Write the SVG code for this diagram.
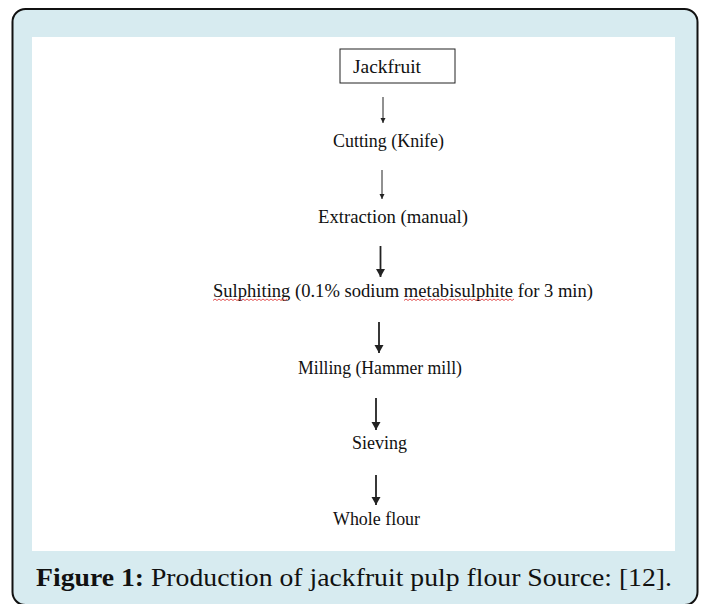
<svg xmlns="http://www.w3.org/2000/svg" width="701" height="604" viewBox="0 0 701 604">
<style>
.lbl{font-family:"Liberation Serif","Times New Roman",serif;font-size:18px;fill:#111}
.cap{font-family:"Liberation Serif","Times New Roman",serif;font-size:26px;fill:#111}
.thin{stroke:#222;stroke-width:1;fill:none}
.thick{stroke:#222;stroke-width:1.8;fill:none}
.sq{stroke:#e04040;stroke-width:0.9;fill:none}
</style>
<defs>
<marker id="ahs" markerWidth="6" markerHeight="6" refX="5" refY="3" orient="auto" markerUnits="userSpaceOnUse"><path d="M0,0.5 L5,3 L0,5.5 Z" fill="#222"/></marker>
<marker id="ahl" markerWidth="9" markerHeight="10" refX="8" refY="5" orient="auto" markerUnits="userSpaceOnUse"><path d="M0,0.5 L8,5 L0,9.5 Z" fill="#222"/></marker>
</defs>
<rect id="frame" x="12.5" y="9" width="685" height="596" rx="13" fill="#d7ebf0" stroke="#111" stroke-width="2"/>
<rect id="panel" x="32" y="37" width="643" height="514" fill="#fff"/>
<g id="connectors">
<line class="thin" x1="383" y1="97" x2="383" y2="123" marker-end="url(#ahs)"/>
<line class="thin" x1="382" y1="170" x2="382" y2="199" marker-end="url(#ahs)"/>
<line class="thick" x1="380.5" y1="246" x2="380.5" y2="277" marker-end="url(#ahl)"/>
<line class="thick" x1="379" y1="322" x2="379" y2="353" marker-end="url(#ahl)"/>
<line class="thick" x1="376" y1="398" x2="376" y2="430" marker-end="url(#ahl)"/>
<line class="thick" x1="376" y1="475" x2="376" y2="505" marker-end="url(#ahl)"/>
</g>
<g id="n-jackfruit">
<rect x="340" y="49" width="115" height="34" fill="#fff" stroke="#222" stroke-width="1"/>
<text class="lbl" x="353" y="73" textLength="68" lengthAdjust="spacingAndGlyphs">Jackfruit</text>
</g>
<g id="n-cutting"><text class="lbl" x="333" y="147" textLength="111" lengthAdjust="spacingAndGlyphs">Cutting (Knife)</text></g>
<g id="n-extraction"><text class="lbl" x="318" y="222.5" textLength="150" lengthAdjust="spacingAndGlyphs">Extraction (manual)</text></g>
<g id="n-sulphiting">
<text class="lbl" x="213" y="297" textLength="380" lengthAdjust="spacingAndGlyphs">Sulphiting (0.1% sodium metabisulphite for 3 min)</text>
<path class="sq" d="M213,300.5 l2,-1.5 l2,1.5 l2,-1.5 l2,1.5 l2,-1.5 l2,1.5 l2,-1.5 l2,1.5 l2,-1.5 l2,1.5 l2,-1.5 l2,1.5 l2,-1.5 l2,1.5 l2,-1.5 l2,1.5 l2,-1.5 l2,1.5 l2,-1.5 l2,1.5 l2,-1.5 l2,1.5 l2,-1.5 l2,1.5 l2,-1.5 l2,1.5 l2,-1.5 l2,1.5 l2,-1.5 l2,1.5 l2,-1.5 l2,1.5 l2,-1.5 l2,1.5 l2,-1.5 l2,1.5 l2,-1.5"/>
<path class="sq" d="M404,300.5 l2,-1.5 l2,1.5 l2,-1.5 l2,1.5 l2,-1.5 l2,1.5 l2,-1.5 l2,1.5 l2,-1.5 l2,1.5 l2,-1.5 l2,1.5 l2,-1.5 l2,1.5 l2,-1.5 l2,1.5 l2,-1.5 l2,1.5 l2,-1.5 l2,1.5 l2,-1.5 l2,1.5 l2,-1.5 l2,1.5 l2,-1.5 l2,1.5 l2,-1.5 l2,1.5 l2,-1.5 l2,1.5 l2,-1.5 l2,1.5 l2,-1.5 l2,1.5 l2,-1.5 l2,1.5 l2,-1.5 l2,1.5 l2,-1.5 l2,1.5 l2,-1.5 l2,1.5 l2,-1.5 l2,1.5 l2,-1.5 l2,1.5 l2,-1.5 l2,1.5 l2,-1.5 l2,1.5 l2,-1.5 l2,1.5 l2,-1.5 l2,1.5 l2,-1.5"/>
</g>
<g id="n-milling"><text class="lbl" x="298" y="374" textLength="164" lengthAdjust="spacingAndGlyphs">Milling (Hammer mill)</text></g>
<g id="n-sieving"><text class="lbl" x="352" y="448.5" textLength="55" lengthAdjust="spacingAndGlyphs">Sieving</text></g>
<g id="n-whole"><text class="lbl" x="333" y="524.5" textLength="87" lengthAdjust="spacingAndGlyphs">Whole flour</text></g>
<g id="caption">
<text class="cap" x="36" y="586" textLength="636" lengthAdjust="spacingAndGlyphs"><tspan font-weight="bold">Figure 1:</tspan> Production of jackfruit pulp flour Source: [12].</text>
</g>
</svg>
